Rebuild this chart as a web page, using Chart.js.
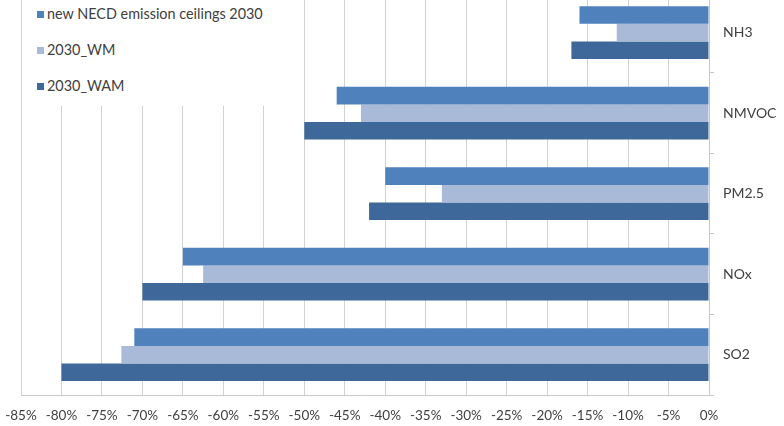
<!DOCTYPE html>
<html>
<head>
<meta charset="utf-8">
<script src="https://cdn.jsdelivr.net/npm/chart.js@4"></script>
<style>
  html, body { margin: 0; padding: 0; background: #fff; overflow: hidden; }
  body { width: 784px; height: 426px; position: relative; }
  #wrap { position: absolute; left: 0; top: -25px; width: 784px; height: 451px; }
  #legend {
    position: absolute; left: 23px; top: 0; width: 280px; height: 106px;
    background: #fff; font-family: Lato, "Open Sans", sans-serif; font-size: 14.4px; color: #404040;
  }
  #legend div { position: absolute; left: 14px; height: 16px; line-height: 16px; white-space: nowrap; }
  #legend span { display: inline-block; width: 7px; height: 7px; margin-right: 3px; vertical-align: 1px; }
</style>
</head>
<body>
<div id="wrap"><canvas id="chart"></canvas></div>
<div id="legend"></div>
<script>
const pollutants = ["NH3", "NMVOC", "PM2.5", "NOx", "SO2"];
const seriesNames = ["new NECD emission ceilings 2030", "2030_WM", "2030_WAM"];
const necdCeilings = [-16, -46, -40, -65, -71];
const withMeasures = [-11.4, -43, -33, -62.5, -72.6];
const withAdditional = [-17, -50, -42, -70, -80];
const seriesColors = ["#4f81bd", "#a9b9d8", "#3e6899"];
const axisTicks = [-85, -80, -75, -70, -65, -60, -55, -50, -45, -40, -35, -30, -25, -20, -15, -10, -5, 0];

const textColor = "#404040";
const fontFamily = "Lato, 'Open Sans', sans-serif";

const datasets = [necdCeilings, withMeasures, withAdditional].map((values, i) => ({
  label: seriesNames[i],
  data: values,
  backgroundColor: seriesColors[i],
  borderWidth: 0,
  barPercentage: 1.0,
  categoryPercentage: 0.655
}));

new Chart(document.getElementById("chart"), {
  type: "bar",
  data: { labels: pollutants, datasets: datasets },
  options: {
    indexAxis: "y",
    responsive: true,
    maintainAspectRatio: false,
    animation: false,
    layout: { padding: { left: 21, right: 0, top: 10, bottom: 0 } },
    plugins: {
      legend: { display: false },
      tooltip: { enabled: false }
    },
    scales: {
      x: {
        min: -85,
        max: 0,
        afterBuildTicks: scale => { scale.ticks = axisTicks.map(v => ({ value: v })); },
        afterFit: scale => {
          scale.height = 31;
          // labels may overhang the plot edges
          scale.paddingLeft = 0;
          scale.paddingRight = 0;
        },
        grid: { color: "#d2d2d2", lineWidth: 1, drawTicks: false },
        border: { color: "#c8c8c8" },
        ticks: {
          padding: 13,
          maxRotation: 0,
          autoSkip: false,
          color: textColor,
          font: { family: fontFamily, size: 13.5 },
          callback: v => v + "%"
        }
      },
      y: {
        position: "right",
        afterFit: scale => { scale.width = 75; },
        grid: { drawOnChartArea: false, drawTicks: true, tickLength: 5, color: "#c8c8c8" },
        border: { color: "#c8c8c8" },
        ticks: {
          padding: 9,
          color: textColor,
          font: { family: fontFamily, size: 14 }
        }
      }
    }
  }
});

// legend block sitting over the upper-left of the plot
const legendEl = document.getElementById("legend");
seriesNames.forEach((name, i) => {
  const row = document.createElement("div");
  row.style.top = (6 + i * 36) + "px";
  row.innerHTML = `<span style="background:${seriesColors[i]}"></span>${name}`;
  legendEl.appendChild(row);
});
</script>
</body>
</html>
